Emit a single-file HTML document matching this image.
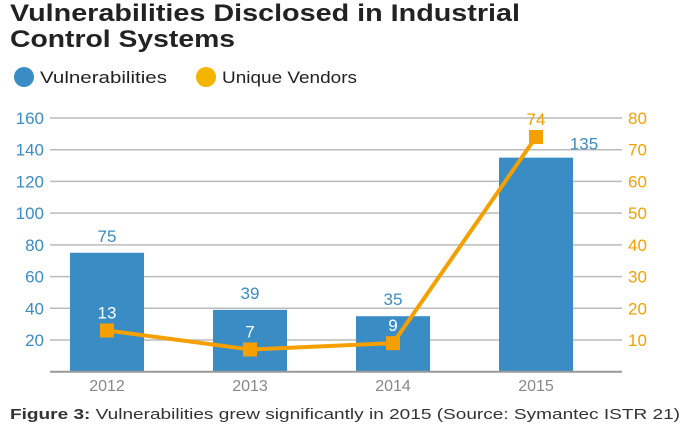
<!DOCTYPE html>
<html><head><meta charset="utf-8"><style>
body{margin:0;width:690px;height:430px;background:#fff;font-family:"Liberation Sans",sans-serif;overflow:hidden}
</style></head><body>
<svg width="690" height="430">
<text x="10" y="21" font-size="24" font-weight="bold" fill="#222" textLength="510" lengthAdjust="spacingAndGlyphs">Vulnerabilities Disclosed in Industrial</text>
<text x="10" y="47" font-size="24" font-weight="bold" fill="#222" textLength="225" lengthAdjust="spacingAndGlyphs">Control Systems</text>
<circle cx="24" cy="77" r="10" fill="#3a8cc4"/>
<text x="40" y="83" font-size="17" fill="#222" textLength="127" lengthAdjust="spacingAndGlyphs">Vulnerabilities</text>
<circle cx="206" cy="77" r="10" fill="#f5b400"/>
<text x="222" y="83" font-size="17" fill="#222" textLength="135" lengthAdjust="spacingAndGlyphs">Unique Vendors</text>
<g id="plot"></g>
<text x="10" y="419" font-size="15" fill="#333" textLength="670" lengthAdjust="spacingAndGlyphs"><tspan font-weight="bold">Figure 3:</tspan> Vulnerabilities grew significantly in 2015 (Source: Symantec ISTR 21)</text>
</svg>
<script>
const categories=["2012","2013","2014","2015"];
const vulns=[75,39,35,135];
const vendors=[13,7,9,74];
const leftTicks=[20,40,60,80,100,120,140,160];
const rightTicks=[10,20,30,40,50,60,70,80];
const NS="http://www.w3.org/2000/svg";
const g=document.getElementById("plot");
const y0=371.7,pxPer=(371.7-118)/160;
const yL=v=>y0-v*pxPer, yR=v=>y0-v*2*pxPer;
const xC=i=>107+i*143;
function el(t,a,txt){const e=document.createElementNS(NS,t);for(const k in a)e.setAttribute(k,a[k]);if(txt!=null)e.textContent=txt;g.appendChild(e);return e;}
leftTicks.forEach((t,i)=>{
 const l=el("line",{x1:50,x2:622,y1:yL(t),y2:yL(t),stroke:"#bbb","stroke-width":1.5});
 
 
 const a=el("text",{x:44,y:yL(t)+6,"font-size":17,fill:"#3a8cc4","text-anchor":"end"},t);
 
 
 const b=el("text",{x:628,y:yR(rightTicks[i])+6,"font-size":17,fill:"#f5a000"},rightTicks[i]);
 
 
});
categories.forEach((c,i)=>{
 const r=el("rect",{x:xC(i)-37,y:yL(vulns[i]),width:74,height:y0-yL(vulns[i]),fill:"#3a8cc4"});
 
 
 const lx=i===3?xC(i)+48:xC(i);
 const ly=i===3?yL(vulns[i])-8:yL(vulns[i])-11;
 const v=el("text",{x:lx,y:ly,"font-size":17,fill:"#3a8cc4","text-anchor":"middle"},vulns[i]);
 
 
 const x=el("text",{x:xC(i),y:391,"font-size":16,fill:"#888","text-anchor":"middle"},c);
 
 
});
const base=el("line",{x1:50,x2:622,y1:y0,y2:y0,stroke:"#999","stroke-width":2});


const pl=el("polyline",{points:vendors.map((v,i)=>xC(i)+","+yR(v)).join(" "),fill:"none",stroke:"#f5a000","stroke-width":4});


vendors.forEach((v,i)=>{
 const m=el("rect",{x:xC(i)-7,y:yR(v)-7,width:14,height:14,fill:"#f5a000"});
 
 
 const t=el("text",{x:xC(i),y:yR(v)-12,"font-size":17,fill:i===3?"#f5a000":"#fff","text-anchor":"middle"},v);
 
 
});
</script>
</body></html>
